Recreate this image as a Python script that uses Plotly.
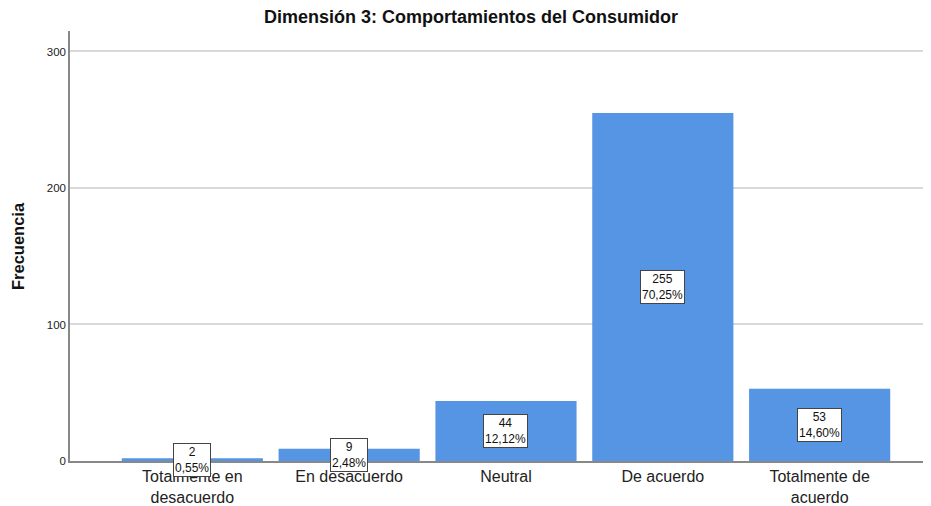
import plotly.graph_objects as go

categorias = ["Totalmente en<br>desacuerdo", "En desacuerdo", "Neutral", "De acuerdo", "Totalmente de<br>acuerdo"]
frecuencias = [2, 9, 44, 255, 53]
porcentajes = ["0,55%", "2,48%", "12,12%", "70,25%", "14,60%"]

posiciones = list(range(len(categorias)))

FUENTE = "Liberation Sans, Arial"

# la pagina deja 8px de margen en el body; se compensa aqui
ANCHO = 923
ALTO = 498

fig = go.Figure()

fig.add_trace(
    go.Bar(
        x=posiciones,
        y=frecuencias,
        width=0.9,
        marker=dict(color="#5595E4", line=dict(width=0)),
        hoverinfo="skip",
    )
)

# etiquetas con caja (frecuencia + porcentaje) en el centro de cada barra
for i, (f, p) in enumerate(zip(frecuencias, porcentajes)):
    fig.add_annotation(
        x=i,
        y=f / 2,
        xref="x",
        yref="y",
        text=f"{f}<br>{p}",
        showarrow=False,
        font=dict(family=FUENTE, size=12, color="#111"),
        bgcolor="white",
        bordercolor="#444",
        borderwidth=1,
        borderpad=1,
        align="center",
    )

# titulo del eje y
fig.add_annotation(
    x=(18 - 70) / 861,
    y=0.5,
    xref="paper",
    yref="paper",
    text="<b>Frecuencia</b>",
    textangle=-90,
    showarrow=False,
    font=dict(family=FUENTE, size=16.5, color="#111"),
    xanchor="center",
    yanchor="middle",
)

fig.update_layout(
    width=ANCHO,
    height=ALTO,
    plot_bgcolor="white",
    paper_bgcolor="white",
    showlegend=False,
    title=dict(
        text="<b>Dimensión 3: Comportamientos del Consumidor</b>",
        x=463 / ANCHO,
        xref="container",
        y=1 - 9 / ALTO,
        yref="container",
        xanchor="center",
        yanchor="middle",
        font=dict(family=FUENTE, size=18, color="#111"),
    ),
    margin=dict(l=62, r=0, t=23, b=45),
    xaxis=dict(
        range=[-0.78, 4.71],
        tickvals=posiciones,
        ticktext=categorias,
        showgrid=False,
        showline=True,
        linecolor="#888",
        linewidth=1.5,
        ticks="",
        ticklabelstandoff=0,
        tickfont=dict(family=FUENTE, size=16, color="#222"),
        zeroline=False,
        automargin=False,
    ),
    yaxis=dict(
        range=[0, 315],
        tickvals=[0, 100, 200, 300],
        showgrid=True,
        gridcolor="#d9d9d9",
        gridwidth=1.5,
        showline=True,
        linecolor="#888",
        linewidth=1.5,
        ticks="",
        tickfont=dict(family=FUENTE, size=11.5, color="#222"),
        zeroline=False,
        automargin=False,
    ),
)

fig.write_html("out.html")
